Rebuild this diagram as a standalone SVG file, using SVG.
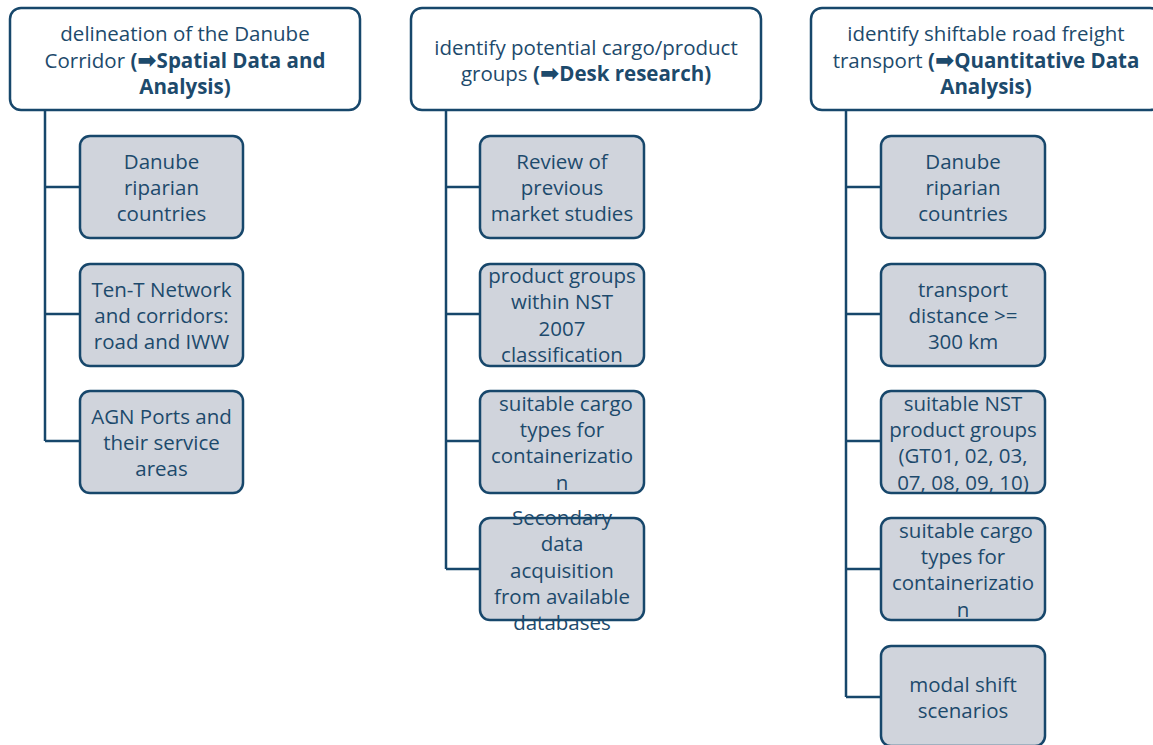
<svg xmlns="http://www.w3.org/2000/svg" width="1153" height="745" viewBox="0 0 1153 745">
<style>
.hdr{fill:#ffffff;stroke:#17476b;stroke-width:2.5}
.box{fill:#d0d4dc;stroke:#17476b;stroke-width:2.5}
.con{fill:none;stroke:#17476b;stroke-width:2.5}
text{font-family:"Open Sans","Noto Sans","DejaVu Sans",sans-serif;font-size:20.5px;fill:#1d4a6c;text-anchor:middle;dominant-baseline:central}
.b{font-weight:bold}
.ar{font-family:"DejaVu Sans",sans-serif;font-weight:bold;font-size:23px}
</style>
<rect width="1153" height="745" fill="#ffffff"/>
<g id="connectors">
<path class="con" d="M45 110V441M45 187H80M45 314H80M45 441H80"/>
<path class="con" d="M446 110V569M446 187H480M446 314H480M446 441H480M446 569H480"/>
<path class="con" d="M846 110V697M846 187H881M846 314H881M846 441H881M846 569H881M846 697H881"/>
</g>
<g id="h1">
<rect class="hdr" x="10" y="8" width="350" height="102" rx="11"/>
<text x="185" y="33">delineation of the Danube</text>
<text x="185" y="60">Corridor <tspan class="b">(<tspan class="ar">➡</tspan>Spatial Data and</tspan></text>
<text x="185" y="86" class="b">Analysis)</text>
</g>
<g id="h2">
<rect class="hdr" x="411" y="8" width="350" height="102" rx="11"/>
<text x="586" y="47">identify potential cargo/product</text>
<text x="586" y="73">groups <tspan class="b">(<tspan class="ar">➡</tspan>Desk research)</tspan></text>
</g>
<g id="h3">
<rect class="hdr" x="811" y="8" width="350" height="102" rx="11"/>
<text x="986" y="33">identify shiftable road freight</text>
<text x="986" y="60">transport <tspan class="b">(<tspan class="ar">➡</tspan>Quantitative Data</tspan></text>
<text x="986" y="86" class="b">Analysis)</text>
</g>
<g id="c1n1">
<rect class="box" x="80" y="136" width="163" height="102" rx="10"/>
<text x="161.5" y="161">Danube</text><text x="161.5" y="187">riparian</text><text x="161.5" y="213">countries</text>
</g>
<g id="c1n2">
<rect class="box" x="80" y="264" width="163" height="102" rx="10"/>
<text x="161.5" y="289">Ten-T Network</text><text x="161.5" y="315">and corridors:</text><text x="161.5" y="341">road and IWW</text>
</g>
<g id="c1n3">
<rect class="box" x="80" y="391" width="163" height="102" rx="10"/>
<text x="161.5" y="416">AGN Ports and</text><text x="161.5" y="442">their service</text><text x="161.5" y="468">areas</text>
</g>
<g id="c2n1">
<rect class="box" x="480" y="136" width="164" height="102" rx="10"/>
<text x="562" y="161">Review of</text><text x="562" y="187">previous</text><text x="562" y="213">market studies</text>
</g>
<g id="c2n2">
<rect class="box" x="480" y="264" width="164" height="102" rx="10"/>
<text x="562" y="275">product groups</text><text x="562" y="301">within NST</text><text x="562" y="328">2007</text><text x="562" y="354">classification</text>
</g>
<g id="c2n3">
<rect class="box" x="480" y="391" width="164" height="102" rx="10"/>
<text x="566" y="403">suitable cargo</text><text x="562" y="429">types for</text><text x="562" y="455">containerizatio</text><text x="562" y="482">n</text>
</g>
<g id="c2n4">
<rect class="box" x="480" y="518" width="164" height="102" rx="10"/>
<text x="562" y="517">Secondary</text><text x="562" y="543">data</text><text x="562" y="570">acquisition</text><text x="562" y="596">from available</text><text x="562" y="622">databases</text>
</g>
<g id="c3n1">
<rect class="box" x="881" y="136" width="164" height="102" rx="10"/>
<text x="963" y="161">Danube</text><text x="963" y="187">riparian</text><text x="963" y="213">countries</text>
</g>
<g id="c3n2">
<rect class="box" x="881" y="264" width="164" height="102" rx="10"/>
<text x="963" y="289">transport</text><text x="963" y="315">distance &gt;=</text><text x="963" y="341">300 km</text>
</g>
<g id="c3n3">
<rect class="box" x="881" y="391" width="164" height="102" rx="10"/>
<text x="963" y="403">suitable NST</text><text x="963" y="429">product groups</text><text x="963" y="455">(GT01, 02, 03,</text><text x="963" y="482">07, 08, 09, 10)</text>
</g>
<g id="c3n4">
<rect class="box" x="881" y="518" width="164" height="102" rx="10"/>
<text x="966" y="530">suitable cargo</text><text x="963" y="556">types for</text><text x="963" y="582">containerizatio</text><text x="963" y="609">n</text>
</g>
<g id="c3n5">
<rect class="box" x="881" y="646" width="164" height="100" rx="10"/>
<text x="963" y="684">modal shift</text><text x="963" y="710">scenarios</text>
</g>
</svg>
